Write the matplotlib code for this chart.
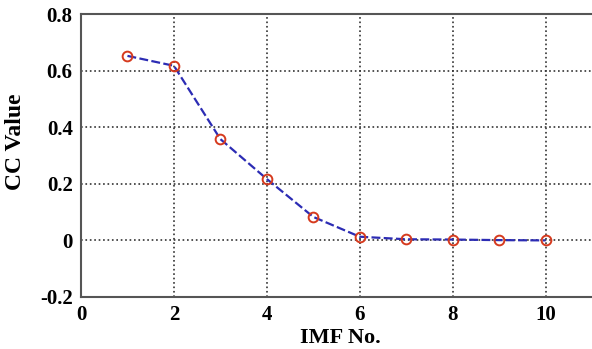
import matplotlib
matplotlib.use("Agg")
import matplotlib.pyplot as plt

imf_no = [1, 2, 3, 4, 5, 6, 7, 8, 9, 10]
cc_value = [0.652, 0.617, 0.358, 0.217, 0.083, 0.013, 0.004, 0.003, 0.001, 0.0]

plt.rcParams['font.family'] = ['Liberation Serif', 'DejaVu Serif']
plt.rcParams['font.weight'] = 'bold'

fig = plt.figure(figsize=(5.92, 3.49), dpi=100)
ax = fig.add_axes([81 / 592, 52 / 349, 511 / 592, 283 / 349])

ax.plot(imf_no, cc_value, color='#2c2cb4', linestyle='--', linewidth=1.6,
        marker='o', markersize=7, markerfacecolor='none',
        markeredgecolor='#d63a1e', markeredgewidth=1.4, dashes=(4, 1.5))

ax.set_xlim(0, 11)
ax.set_ylim(-0.2, 0.8)
ax.set_xticks([0, 2, 4, 6, 8, 10])
ax.set_yticks([-0.2, 0, 0.2, 0.4, 0.6, 0.8])
ax.set_yticklabels(['-0.2', '0', '0.2', '0.4', '0.6', '0.8'])
ax.grid(True, color='#333333', linestyle=':', linewidth=1.2)
ax.tick_params(length=0, labelsize=15, pad=6)
ax.spines['right'].set_visible(False)
for s in ['left', 'bottom', 'top']:
    ax.spines[s].set_color('#555555')
    ax.spines[s].set_linewidth(1.5)

ax.set_xlabel('IMF No.', fontsize=16, fontweight='bold')
ax.set_ylabel('CC Value', fontsize=17, fontweight='bold')
ax.xaxis.set_label_coords(0.508, -0.11)
ax.yaxis.set_label_coords(-0.108, 0.55)

fig.savefig('out.png', dpi=100)
